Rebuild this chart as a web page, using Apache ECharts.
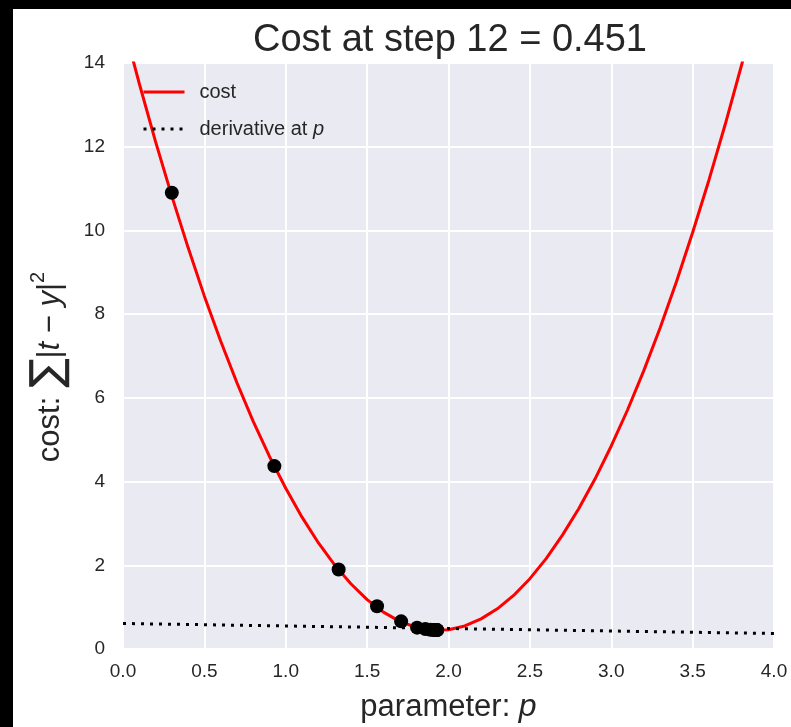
<!DOCTYPE html>
<html><head><meta charset="utf-8">
<script src="https://cdn.jsdelivr.net/npm/echarts@6/dist/echarts.min.js"></script>
<style>
html,body{margin:0;padding:0;background:#000;width:791px;height:727px;overflow:hidden}
#main{position:absolute;left:13px;top:9px;width:778px;height:718px;background:#fff}
</style>
</head><body><div id="main"></div>
<script>
// cost curve
const curveP = [0.0,0.1,0.2,0.3,0.4,0.5,0.6,0.7,0.8,0.9,1.0,1.1,1.2,1.3,1.4,1.5,1.6,1.7,1.8,1.9,
                2.0,2.1,2.2,2.3,2.4,2.5,2.6,2.7,2.8,2.9,3.0,3.1,3.2,3.3,3.4,3.5,3.6,3.7,3.8,3.9,4.0];
const curveCost = [14.97,13.51,12.12,10.82,9.59,8.43,7.36,6.36,5.44,4.60,3.84,3.15,2.54,2.01,1.56,1.18,0.88,0.66,0.52,0.45,
                   0.46,0.55,0.72,0.96,1.28,1.68,2.16,2.72,3.35,4.06,4.85,5.71,6.65,7.67,8.77,9.95,11.20,12.53,13.94,15.43,16.98];
// gradient descent steps
const stepP = [0.30,0.93,1.325,1.561,1.709,1.807,1.858,1.889,1.907,1.918,1.925,1.929,1.931];
const stepCost = [10.90,4.37,1.90,1.02,0.66,0.51,0.475,0.46,0.455,0.453,0.452,0.451,0.451];
// derivative (tangent) at last p
const derivP = [0.0,4.0];
const derivCost = [0.61,0.37];

const titleText = 'Cost at step 12 = 0.451';
const legendNames = ['cost','derivative at p'];

const zip = (a,b) => a.map((v,i) => [v,b[i]]);
const txt = '#262626';
const font = 'Liberation Sans';

const chart = echarts.init(document.getElementById('main'), null, {renderer:'canvas'});
chart.setOption({
  animation:false,
  backgroundColor:'#fff',
  title:{
    text:titleText, left:432, top:8, textAlign:'center',
    textStyle:{fontFamily:font, fontSize:38, fontWeight:'normal', color:txt}
  },
  legend:{
    data:legendNames, orient:'vertical', left:129, top:73, padding:0,
    itemWidth:41, itemHeight:14, itemGap:17,
    itemStyle:{color:'rgba(0,0,0,0)', borderWidth:0, opacity:0},
    lineStyle:{width:3},
    formatter: n => n === 'derivative at p' ? 'derivative at {i|p}' : n,
    textStyle:{fontFamily:font, fontSize:20, color:txt, lineHeight:20, padding:[0,0,0,10],
      rich:{i:{fontFamily:font, fontSize:20, fontStyle:'italic', color:txt}}}
  },
  grid:{left:110, right:17, top:54, bottom:78, outerBoundsMode:'none',
        show:true, backgroundColor:'#EAEAF2', borderWidth:0},
  xAxis:{
    type:'value', min:0, max:4, interval:0.5,
    name:'parameter: {i|p}', nameLocation:'middle', nameGap:42,
    nameTextStyle:{fontFamily:font, fontSize:31, color:txt,
      rich:{i:{fontFamily:font, fontSize:32, fontStyle:'italic', color:txt}}},
    axisLine:{show:false}, axisTick:{show:false},
    axisLabel:{fontFamily:font, fontSize:19, color:txt, margin:13, formatter:v=>v.toFixed(1)},
    splitLine:{show:true, lineStyle:{color:'#fff', width:2}}
  },
  yAxis:{
    type:'value', min:0, max:14, interval:2,
    name:'{a|cost: }{b|∑}{a||}{i|t}{a| − }{i|y}{a||}{s|2}', nameLocation:'middle', nameRotate:90, nameGap:51,
    nameTextStyle:{fontFamily:font, fontSize:31, color:txt, padding:[0,22,0,0],
      rich:{
        a:{fontFamily:font, fontSize:31, color:txt},
        b:{fontFamily:'DejaVu Sans', fontSize:44, color:txt},
        i:{fontFamily:font, fontSize:31, fontStyle:'italic', color:txt},
        s:{fontFamily:font, fontSize:20, color:txt, verticalAlign:'top'}
      }},
    axisLine:{show:false}, axisTick:{show:false},
    axisLabel:{fontFamily:font, fontSize:19, color:txt, margin:18},
    splitLine:{show:true, lineStyle:{color:'#fff', width:2}}
  },
  series:[
    {name:'cost', type:'line', data:zip(curveP,curveCost), showSymbol:false, symbol:'none',
     lineStyle:{color:'#ff0000', width:3}, itemStyle:{color:'#ff0000'}, clip:true, z:2},
    {name:'derivative at p', type:'line', data:zip(derivP,derivCost), showSymbol:false, symbol:'none',
     lineStyle:{color:'#000', width:3, type:[3,6]}, itemStyle:{color:'#000'}, clip:true, z:3},
    {name:'steps', type:'scatter', data:zip(stepP,stepCost), symbol:'circle', symbolSize:14,
     itemStyle:{color:'#000', opacity:1}, z:4}
  ]
});
</script>
</body></html>
